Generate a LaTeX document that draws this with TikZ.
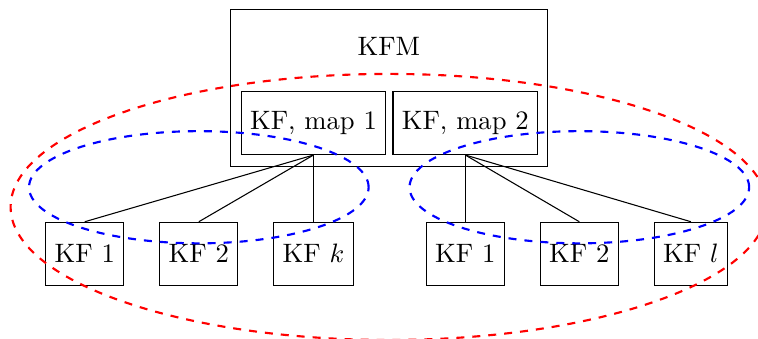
\documentclass[tikz,border=0pt]{standalone}
\usetikzlibrary{positioning}
\tikzset{
  kfbox/.style={draw, minimum height=0.83cm},
  group/.style={dashed, thick}
}
\begin{document}
\begin{tikzpicture}
          \useasboundingbox (0,0) rectangle (10,-4.46);
          \node[draw, minimum width=4.18cm, minimum height=2.08cm] (kfm) at (5.13,-1.16) {};
          \node[below=0.26cm of kfm.north] (kfmlabel) {KFM};
          \node[kfbox] (m1) at (4.136,-1.623) {KF, map 1};
          \node[kfbox, right=0.08cm of m1] (m2) {KF, map 2};
          \begin{scope}[node distance=0.88cm]
            \node[kfbox, below=of m1] (a3) {KF $k$};
            \node[kfbox, below=of m2] (b1) {KF 1};
          \end{scope}
          \begin{scope}[node distance=0.46cm]
            \node[kfbox, left=of a3] (a2) {KF 2};
            \node[kfbox, left=of a2] (a1) {KF 1};
            \node[kfbox, right=of b1] (b2) {KF 2};
            \node[kfbox, right=of b2] (b3) {KF $l$};
          \end{scope}
          \draw (m1.south) -- (a1.north);
          \draw (m1.south) -- (a2.north);
          \draw (m1.south) -- (a3.north);
          \draw (m2.south) -- (b1.north);
          \draw (m2.south) -- (b2.north);
          \draw (m2.south) -- (b3.north);
          \begin{scope}[group]
            \draw[blue] (a2 |- 0,-2.47) ellipse (2.24 and 0.74);
            \draw[blue] (b2 |- 0,-2.47) ellipse (2.24 and 0.74);
            \draw[red] (kfm |- 0,-2.73) ellipse (4.99 and 1.755);
          \end{scope}
\end{tikzpicture}
\end{document}
